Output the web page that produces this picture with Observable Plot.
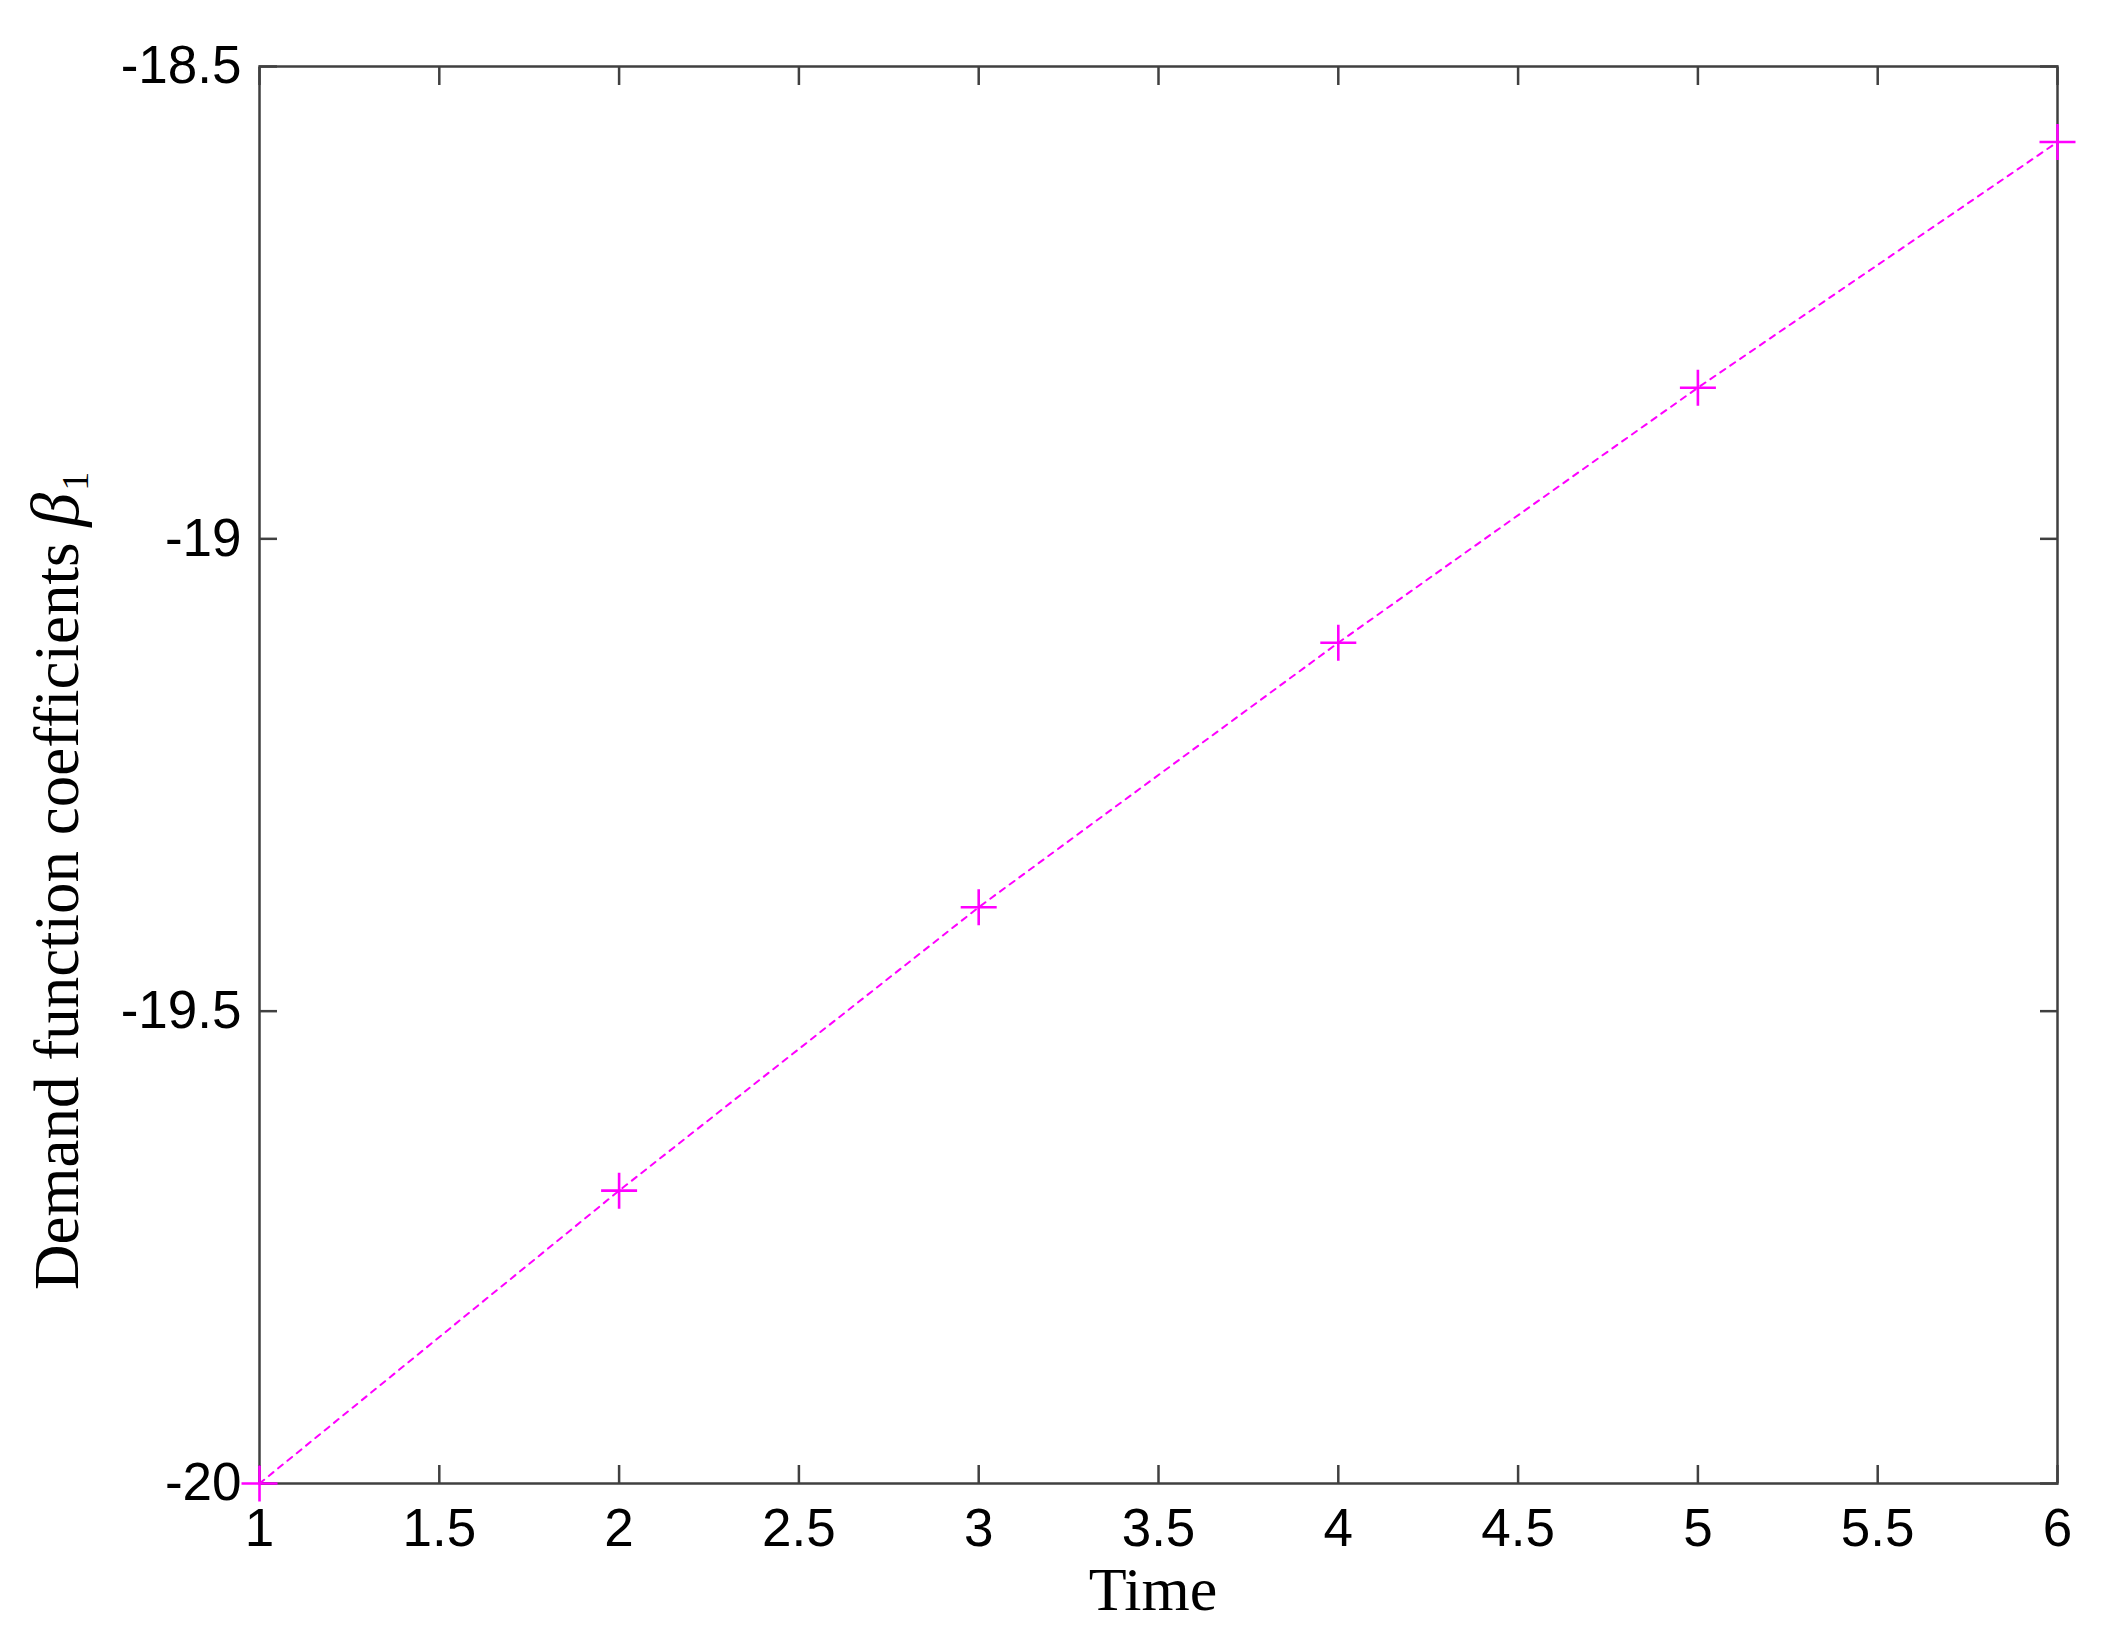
<!DOCTYPE html>
<html>
<head>
<meta charset="utf-8">
<script src="https://cdn.jsdelivr.net/npm/d3@7"></script>
<script src="https://cdn.jsdelivr.net/npm/@observablehq/plot@0.6"></script>
<style>
  html, body { margin: 0; padding: 0; background: #fff; }
  #chart svg { display: block; }
</style>
</head>
<body>
<div id="chart"></div>
<script>
// Data
const time = [1, 2, 3, 4, 5, 6];
const beta1 = [-20, -19.69, -19.39, -19.11, -18.84, -18.58];
const xTicks = [1, 1.5, 2, 2.5, 3, 3.5, 4, 4.5, 5, 5.5, 6];
const yTicks = [-20, -19.5, -19, -18.5];
const xLabel = "Time";
const yLabel = "Demand function coefficients ";

const data = time.map((t, i) => ({ t, b: beta1[i] }));

const plusSymbol = {
  draw(ctx, size) {
    const r = Math.sqrt(size / Math.PI);
    ctx.moveTo(-r, 0); ctx.lineTo(r, 0);
    ctx.moveTo(0, -r); ctx.lineTo(0, r);
  }
};

const tickFont = "'Liberation Sans', Arial, sans-serif";
const labelFont = "'Liberation Serif', 'Times New Roman', serif";
const axisColor = "#404040";
const tl = 18;

const chart = Plot.plot({
  width: 2103,
  height: 1640,
  marginLeft: 259,
  marginRight: 46,
  marginTop: 66,
  marginBottom: 157,
  style: { background: "#fff", fontFamily: tickFont },
  x: { domain: [1, 6] },
  y: { domain: [-20, -18.5] },
  marks: [
    // inward ticks on all four sides
    Plot.axisX(xTicks, { anchor: "bottom", tickSize: tl, dy: -tl, stroke: axisColor, strokeWidth: 2.5, tickFormat: () => "", label: null }),
    Plot.axisX(xTicks, { anchor: "top", tickSize: tl, dy: tl, stroke: axisColor, strokeWidth: 2.5, tickFormat: () => "", label: null }),
    Plot.axisY(yTicks, { anchor: "left", tickSize: tl, dx: tl, stroke: axisColor, strokeWidth: 2.5, tickFormat: () => "", label: null }),
    Plot.axisY(yTicks, { anchor: "right", tickSize: tl, dx: -tl, stroke: axisColor, strokeWidth: 2.5, tickFormat: () => "", label: null }),
    // tick labels
    Plot.axisX(xTicks, { anchor: "bottom", tickSize: 0, tickPadding: 25, fontSize: 53, fill: "#000", tickFormat: d => String(d), label: null }),
    Plot.axisY(yTicks, { anchor: "left", tickSize: 0, tickPadding: 18, fontSize: 53, fill: "#000", tickFormat: d => String(d), label: null }),
    Plot.frame({ stroke: axisColor, strokeWidth: 2.5 }),
    Plot.line(data, { x: "t", y: "b", stroke: "#ff00ff", strokeWidth: 2, strokeDasharray: "6,6" }),
    Plot.dot(data, { x: "t", y: "b", symbol: plusSymbol, r: 18, stroke: "#ff00ff", strokeWidth: 2.6, fill: "none" })
  ]
});

const svg = d3.select(chart);
// x axis label
svg.append("text")
  .attr("x", 1153).attr("y", 1610)
  .attr("text-anchor", "middle")
  .attr("font-family", labelFont)
  .attr("font-size", 62)
  .attr("fill", "#000")
  .text(xLabel);

// y axis label with italic beta and subscript 1
const yl = svg.append("text")
  .attr("x", 78).attr("y", 1290)
  .attr("transform", "rotate(-90, 78, 1290)")
  .attr("text-anchor", "start")
  .attr("font-family", labelFont)
  .attr("font-size", 63)
  .attr("fill", "#000");
yl.append("tspan").text(yLabel);
yl.append("tspan").attr("font-style", "italic").attr("font-size", 68).text("β");
yl.append("tspan").attr("font-size", 38).attr("dy", 10).attr("dx", 2).text("1");

document.getElementById("chart").appendChild(chart);
</script>
</body>
</html>
